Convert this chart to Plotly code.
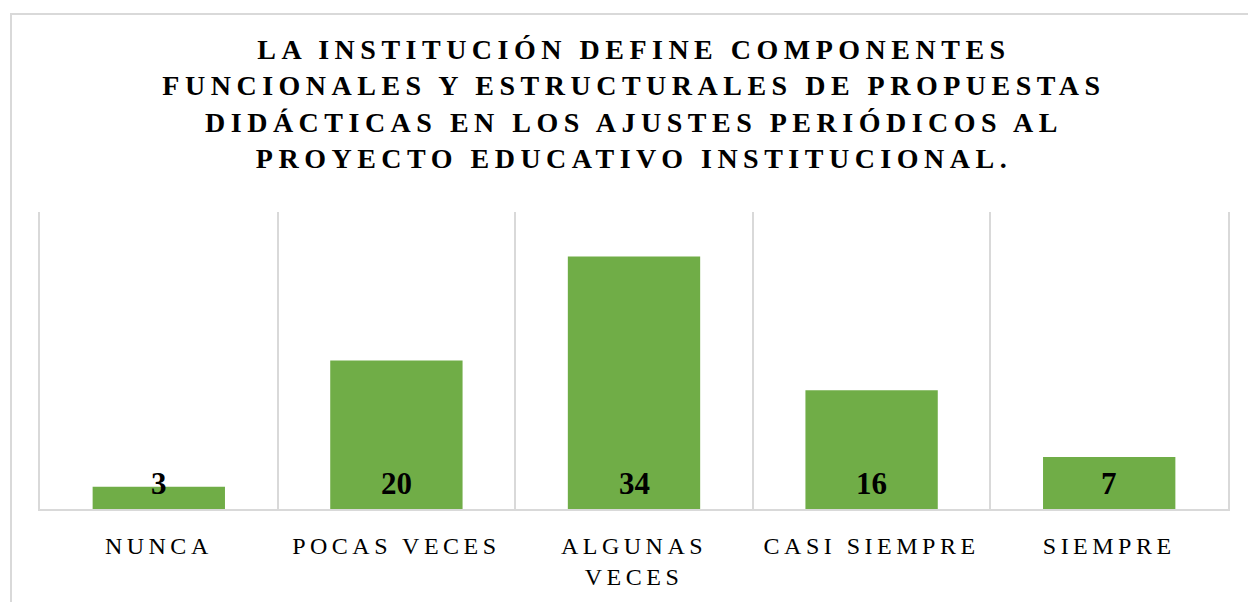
import plotly.graph_objects as go

# Survey responses per frequency category
categories = ["NUNCA", "POCAS VECES", "ALGUNAS<br>VECES", "CASI SIEMPRE", "SIEMPRE"]
counts = [3, 20, 34, 16, 7]

title_lines = [
    "LA INSTITUCIÓN DEFINE COMPONENTES",
    "FUNCIONALES Y ESTRUCTURALES DE PROPUESTAS",
    "DIDÁCTICAS EN LOS AJUSTES PERIÓDICOS AL",
    "PROYECTO EDUCATIVO INSTITUCIONAL.",
]

SERIF = "Liberation Serif, Times New Roman, serif"
GREEN = "#70AD47"
GRID = "#d9d9d9"

fig = go.Figure()
fig.add_trace(
    go.Bar(
        x=categories,
        y=counts,
        width=0.557,
        marker=dict(color=GREEN, line=dict(width=0)),
        hoverinfo="skip",
    )
)

# Value labels sitting at the base of each bar
for cat, val in zip(categories, counts):
    fig.add_annotation(
        x=cat, y=0, xref="x", yref="y",
        text=f"<b>{val}</b>",
        showarrow=False,
        yanchor="middle",
        yshift=26,
        font=dict(family=SERIF, size=31, color="black"),
    )

# Light outer frame of the chart area
fig.add_shape(
    type="rect", xref="paper", yref="paper",
    x0=-0.0244, x1=1.05, y0=-0.5, y1=1.6667,
    line=dict(color=GRID, width=2), fillcolor="rgba(0,0,0,0)",
    layer="below",
)

fig.update_layout(
    width=1248,
    height=602,
    margin=dict(l=40, r=20, t=212, b=90),
    paper_bgcolor="white",
    plot_bgcolor="white",
    showlegend=False,
    title=dict(
        text="<br>".join(title_lines),
        x=0.5, xref="paper", xanchor="center",
        y=1 - 59 / 602, yref="container", yanchor="middle",
        font=dict(family=SERIF, size=28, color="black", weight="bold"),
    ),
    xaxis=dict(
        type="category",
        tickson="boundaries",
        showgrid=True,
        gridcolor=GRID,
        gridwidth=2,
        showline=True,
        linecolor=GRID,
        linewidth=2,
        ticks="",
        ticklabelstandoff=14,
        tickfont=dict(family=SERIF, size=24, color="black"),
    ),
    yaxis=dict(
        range=[0, 40],
        showgrid=False,
        zeroline=False,
        showticklabels=False,
        showline=True,
        mirror=True,
        linecolor=GRID,
        linewidth=2,
    ),
)

letter_spacing_css = (
    "var s=document.createElement('style');"
    "s.textContent='.gtitle{letter-spacing:5.5px;} .xtick text{letter-spacing:4.5px;}';"
    "document.head.appendChild(s);"
)

fig.write_html("out.html", post_script=letter_spacing_css)
